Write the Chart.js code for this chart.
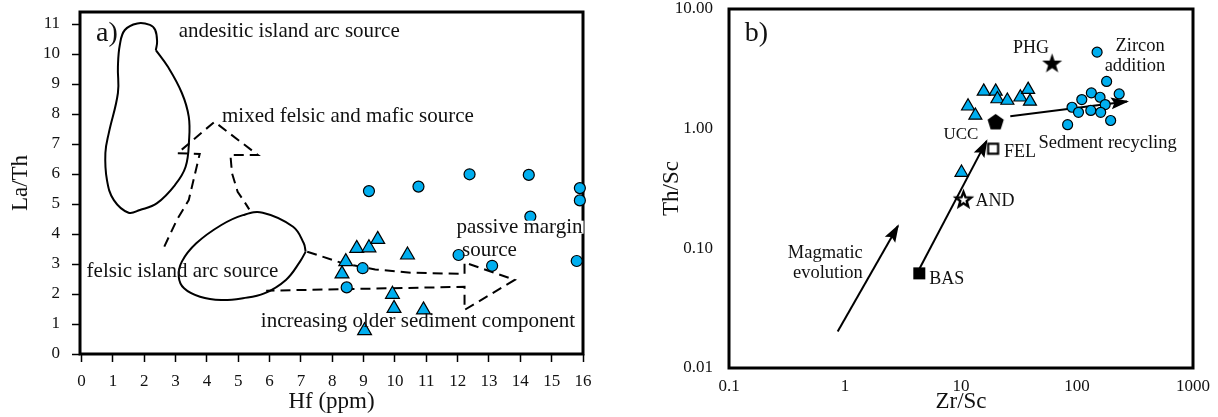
<!DOCTYPE html>
<html><head><meta charset="utf-8">
<script src="https://cdn.jsdelivr.net/npm/chart.js@4.4.1/dist/chart.umd.min.js"></script>
<style>
html,body{margin:0;padding:0;background:#fff;}
#wrap{position:relative;width:1218px;height:417px;overflow:hidden;background:#fff;}
#ca{position:absolute;left:0;top:0;}
#cb{position:absolute;left:609px;top:0;}
</style></head><body>
<div id="wrap"><canvas id="ca" width="609" height="417"></canvas><canvas id="cb" width="609" height="417"></canvas></div>
<script>
// ---------------- Panel a data ----------------
const xTicksA = [0,1,2,3,4,5,6,7,8,9,10,11,12,13,14,15,16];
const yTicksA = [0,1,2,3,4,5,6,7,8,9,10,11];
const circlesA_hf = [9.17,10.75,12.38,14.27,15.9,15.9,14.32,12.03,13.1,15.8,8.97,8.46];
const circlesA_la = [5.43,5.58,5.99,5.97,5.53,5.12,4.58,3.30,2.94,3.10,2.86,2.22];
const trianglesA_hf = [8.78,9.17,9.45,8.43,8.31,10.4,9.92,9.97,10.91,9.03];
const trianglesA_la = [3.52,3.54,3.82,3.08,2.67,3.30,1.99,1.52,1.47,0.78];
const andesiticHf = [2.37,2.75,3.2,3.42,3.43,3.32,2.98,2.41,1.86,1.5,1.03,0.81,0.76,0.87,1.16,1.16,1.22,1.38,1.78,2.18,2.35,2.41,2.37];
const andesiticLa = [10.13,9.58,8.7,7.91,7.13,6.24,5.63,5.03,4.8,4.71,5.13,5.8,6.7,7.37,8.7,9.58,10.3,10.8,11.02,10.97,10.8,10.41,10.13];
const felsicHf = [7.15,6.97,6.52,5.83,5.15,4.46,3.78,3.27,3.1,3.2,3.66,4.46,5.15,5.78,6.75,7.09,7.15];
const felsicLa = [3.41,3.08,2.47,2.02,1.86,1.8,1.91,2.19,2.58,3.08,3.69,4.3,4.63,4.71,4.24,3.69,3.41];
const mixedArrowHf = [2.64,3.04,3.42,3.77,3.06,4.24,5.63,4.75,4.8,4.98,5.26,5.35];
const mixedArrowLa = [3.58,4.47,5.13,6.67,6.69,7.74,6.63,6.63,6.03,5.41,4.97,4.82];
const olderArrowHf = [7.2,8.35,9.37,10.51,12.22,12.22,13.82,12.22,12.22,5.89];
const olderArrowLa = [3.41,3.02,2.82,2.71,2.67,3.05,2.47,1.47,2.24,2.11];

// ---------------- Panel b data ----------------
const xTicksB = [0.1,1,10,100,1000];
const xTickLabelsB = ['0.1','1','10','100','1000'];
const yTicksB = [0.01,0.1,1,10];
const yTickLabelsB = ['0.01','0.10','1.00','10.00'];
const circlesB_zr = [149,180,133,110,158,231,90.6,175,103,131.5,160,195,83];
const circlesB_th = [4.36,2.48,1.99,1.75,1.83,1.95,1.51,1.59,1.37,1.42,1.37,1.17,1.08];
const trianglesB_zr = [15.7,19.9,20.6,25.1,32.5,37.9,39.3,11.5,13.3,10.1];
const trianglesB_th = [2.05,2.05,1.77,1.72,1.83,2.12,1.69,1.54,1.29,0.43];
const refNames = ['PHG','UCC','FEL','AND','BAS'];
const refZr = [61,19.9,18.9,10.5,4.37];
const refTh = [3.53,1.15,0.68,0.257,0.0618];
const arrowBasZr = [4.37,16.6];
const arrowBasTh = [0.0673,0.787];
const arrowRecycleZr = [26.6,270];
const arrowRecycleTh = [1.27,1.69];
const arrowMagmaZr = [0.865,2.86];
const arrowMagmaTh = [0.0202,0.154];

// ---------------- helpers ----------------
const FONT = '"Liberation Serif", "Times New Roman", serif';
const CYAN = '#00AEEF';
const INK = '#111111';
function pts(xs, ys){ return xs.map((x,i)=>({x:x, y:ys[i]})); }

function makeStar(rO, rI, fill, stroke, lw){
  const s = Math.ceil(2*rO + lw + 4);
  const c = document.createElement('canvas'); c.width = s; c.height = s;
  const g = c.getContext('2d'); const cx = s/2, cy = s/2 + rO*0.08;
  g.beginPath();
  for (let k=0;k<10;k++){
    const r = k%2===0 ? rO : rI; const a = -Math.PI/2 + k*Math.PI/5;
    const px = cx + r*Math.cos(a), py = cy + r*Math.sin(a);
    if(k===0) g.moveTo(px,py); else g.lineTo(px,py);
  }
  g.closePath(); g.fillStyle = fill; g.fill();
  if (lw>0){ g.lineWidth = lw; g.strokeStyle = stroke; g.lineJoin='miter'; g.stroke(); }
  return c;
}
function makePentagon(r){
  const s = Math.ceil(2*r+4); const c = document.createElement('canvas'); c.width=s; c.height=s;
  const g = c.getContext('2d'); const cx=s/2, cy=s/2+1;
  g.beginPath();
  for(let k=0;k<5;k++){ const a=-Math.PI/2+k*2*Math.PI/5; const px=cx+r*Math.cos(a), py=cy+r*Math.sin(a); if(k===0)g.moveTo(px,py); else g.lineTo(px,py);}
  g.closePath(); g.fillStyle='#000'; g.fill(); return c;
}
function makeSquare(side, filled, lw){
  const s = Math.ceil(side+lw+2); const c=document.createElement('canvas'); c.width=s; c.height=s;
  const g=c.getContext('2d'); const o=(s-side)/2;
  if(filled){ g.fillStyle='#000'; g.fillRect(o,o,side,side); }
  else { g.fillStyle='#fff'; g.fillRect(o,o,side,side); g.lineWidth=lw; g.strokeStyle='#000'; g.strokeRect(o,o,side,side); }
  return c;
}
const refStyles = [makeStar(10.5,4.2,'#000','#000',0), makePentagon(8.5), makeSquare(10,false,2.2), makeStar(8,3.4,'#fff','#000',2.4), makeSquare(12,true,0)];

const framePlugin = {
  id:'frame',
  beforeDatasetsDraw(chart){
    const a = chart.chartArea, ctx = chart.ctx;
    ctx.save(); ctx.lineWidth = 3; ctx.strokeStyle = '#000';
    ctx.strokeRect(a.left, a.top, a.right-a.left, a.bottom-a.top);
    ctx.restore();
  }
};
const arrowPlugin = {
  id:'arrows',
  afterDatasetsDraw(chart){
    const ctx = chart.ctx;
    chart.data.datasets.forEach((ds,i)=>{
      if(!ds.arrowHead) return;
      const d = chart.getDatasetMeta(i).data; const n = d.length;
      const p1 = d[n-2], p2 = d[n-1];
      const ang = Math.atan2(p2.y-p1.y, p2.x-p1.x);
      const L = 16, W = 6;
      ctx.save(); ctx.translate(p2.x,p2.y); ctx.rotate(ang);
      ctx.beginPath(); ctx.moveTo(2,0); ctx.lineTo(-L,-W); ctx.lineTo(-L*0.8,0); ctx.lineTo(-L,W); ctx.closePath();
      ctx.fillStyle='#000'; ctx.fill(); ctx.restore();
    });
  }
};
const textPlugin = {
  id:'texts',
  afterDraw(chart, args, opts){
    const ctx = chart.ctx, xs = chart.scales.x, ys = chart.scales.y;
    (opts.items||[]).forEach(it=>{
      ctx.save();
      ctx.font = it.size + 'px ' + FONT;
      const al = it.align || 'left';
      ctx.textAlign = al; ctx.textBaseline = 'middle';
      const px = xs.getPixelForValue(it.x), py = ys.getPixelForValue(it.y);
      if(it.bg){
        const w = ctx.measureText(it.text).width;
        const left = al==='left'? px : (al==='center'? px-w/2 : px-w);
        ctx.fillStyle='#fff'; ctx.fillRect(left, py-it.size*0.32, w+1, it.size*0.62);
      }
      ctx.fillStyle = INK; ctx.fillText(it.text, px, py);
      ctx.restore();
    });
  }
};

function lineDs(xs, ys, dashed, tension, arrow){
  return {data: pts(xs,ys), showLine:true, borderColor:'#000', borderWidth:2, borderDash: dashed?[10,6]:[],
    pointRadius:0, pointHoverRadius:0, tension:tension, fill:false, clip:false, arrowHead:!!arrow};
}
function fitY(w){ return s=>{ s.width = w; s.paddingTop = 0; s.paddingBottom = 0; }; }
function fitX(h){ return s=>{ s.height = h; s.paddingLeft = 0; s.paddingRight = 0; }; }

// ---------------- Chart a ----------------
new Chart(document.getElementById('ca'), {
  type:'scatter',
  data:{ datasets:[
    {data:pts(circlesA_hf,circlesA_la), pointStyle:'circle', pointRadius:5.5, backgroundColor:CYAN, borderColor:'#000', borderWidth:1.2, clip:false},
    {data:pts(trianglesA_hf,trianglesA_la), pointStyle:'triangle', pointRadius:8, backgroundColor:CYAN, borderColor:'#000', borderWidth:1.2, clip:false},
    lineDs(andesiticHf, andesiticLa, false, 0.4),
    lineDs(felsicHf, felsicLa, false, 0.4),
    lineDs(mixedArrowHf, mixedArrowLa, true, 0),
    lineDs(olderArrowHf, olderArrowLa, true, 0)
  ]},
  options:{
    responsive:false, animation:false, devicePixelRatio:1,
    layout:{padding:{top:12,right:26,left:0,bottom:0}},
    plugins:{legend:{display:false}, tooltip:{enabled:false},
      texts:{items:[
        {text:'a)', x:0.46, y:10.67, size:28},
        {text:'andesitic island arc source', x:3.1, y:10.74, size:21},
        {text:'mixed felsic and mafic source', x:4.48, y:7.91, size:21},
        {text:'felsic island arc source', x:0.16, y:2.74, size:21},
        {text:'passive margin', x:11.96, y:4.22, size:21, bg:true},
        {text:'source', x:12.14, y:3.44, size:21},
        {text:'increasing older sediment component', x:5.72, y:1.08, size:21}
      ]}
    },
    scales:{
      x:{type:'linear', min:-0.05, max:16,
        afterBuildTicks:s=>{s.ticks = xTicksA.map(v=>({value:v}));},
        afterFit:fitX(63),
        grid:{display:true, drawOnChartArea:false, drawTicks:true, tickLength:8, tickWidth:1.5, tickColor:'#000'},
        border:{display:false},
        ticks:{color:INK, font:{family:FONT, size:17}, padding:9, maxRotation:0, autoSkip:false},
        title:{display:true, text:'Hf (ppm)', color:INK, font:{family:FONT, size:23}, padding:{top:0,bottom:1}}
      },
      y:{type:'linear', min:0, max:11.4,
        afterBuildTicks:s=>{s.ticks = yTicksA.map(v=>({value:v}));},
        afterFit:fitY(80),
        grid:{display:true, drawOnChartArea:false, drawTicks:true, tickLength:8, tickWidth:1.5, tickColor:'#000'},
        border:{display:false},
        ticks:{color:INK, font:{family:FONT, size:17}, padding:12, autoSkip:false},
        title:{display:true, text:'La/Th', color:INK, font:{family:FONT, size:23}, padding:{top:7,bottom:0}}
      }
    }
  },
  plugins:[framePlugin, textPlugin]
});

// ---------------- Chart b ----------------
new Chart(document.getElementById('cb'), {
  type:'scatter',
  data:{ datasets:[
    {data:pts(refZr,refTh), pointStyle:refStyles, pointRadius:8, clip:false},
    {data:pts(circlesB_zr,circlesB_th), pointStyle:'circle', pointRadius:5, backgroundColor:CYAN, borderColor:'#000', borderWidth:1.2, clip:false},
    {data:pts(trianglesB_zr,trianglesB_th), pointStyle:'triangle', pointRadius:7.5, backgroundColor:CYAN, borderColor:'#000', borderWidth:1.2, clip:false},
    lineDs(arrowBasZr, arrowBasTh, false, 0, true),
    lineDs(arrowRecycleZr, arrowRecycleTh, false, 0, true),
    lineDs(arrowMagmaZr, arrowMagmaTh, false, 0, true)
  ]},
  options:{
    responsive:false, animation:false, devicePixelRatio:1,
    layout:{padding:{top:7,right:25,left:0,bottom:0}},
    plugins:{legend:{display:false}, tooltip:{enabled:false},
      texts:{items:[
        {text:'b)', x:0.1366, y:6.24, size:28},
        {text:refNames[0], x:40.1, y:4.71, size:18, align:'center'},
        {text:'Zircon', x:350, y:4.87, size:18.5, align:'center'},
        {text:'addition', x:316, y:3.31, size:18.5, align:'center'},
        {text:refNames[1], x:9.98, y:0.895, size:17, align:'center'},
        {text:refNames[2], x:32.2, y:0.629, size:18, align:'center'},
        {text:'Sedment recycling', x:183.6, y:0.762, size:18.5, align:'center'},
        {text:refNames[3], x:19.6, y:0.249, size:18, align:'center'},
        {text:refNames[4], x:7.55, y:0.0555, size:18, align:'center'},
        {text:'Magmatic', x:1.424, y:0.0907, size:18.5, align:'right'},
        {text:'evolution', x:1.424, y:0.0618, size:18.5, align:'right'}
      ]}
    },
    scales:{
      x:{type:'logarithmic', min:0.1, max:1000,
        afterBuildTicks:s=>{s.ticks = xTicksB.map(v=>({value:v}));},
        afterFit:fitX(49),
        grid:{display:false}, border:{display:false},
        ticks:{color:INK, font:{family:FONT, size:17}, padding:0, maxRotation:0, autoSkip:false,
          callback:(v,i)=>xTickLabelsB[i]},
        title:{display:true, text:'Zr/Sc', color:INK, font:{family:FONT, size:23}, padding:{top:0,bottom:1.5}}
      },
      y:{type:'logarithmic', min:0.01, max:10,
        afterBuildTicks:s=>{s.ticks = yTicksB.map(v=>({value:v}));},
        afterFit:fitY(120),
        grid:{display:false}, border:{display:false},
        ticks:{color:INK, font:{family:FONT, size:17}, padding:8, autoSkip:false,
          callback:(v,i)=>yTickLabelsB[i]},
        title:{display:true, text:'Th/Sc', color:INK, font:{family:FONT, size:23}, padding:{top:49,bottom:0}}
      }
    }
  },
  plugins:[framePlugin, arrowPlugin, textPlugin]
});
</script>
</body></html>
